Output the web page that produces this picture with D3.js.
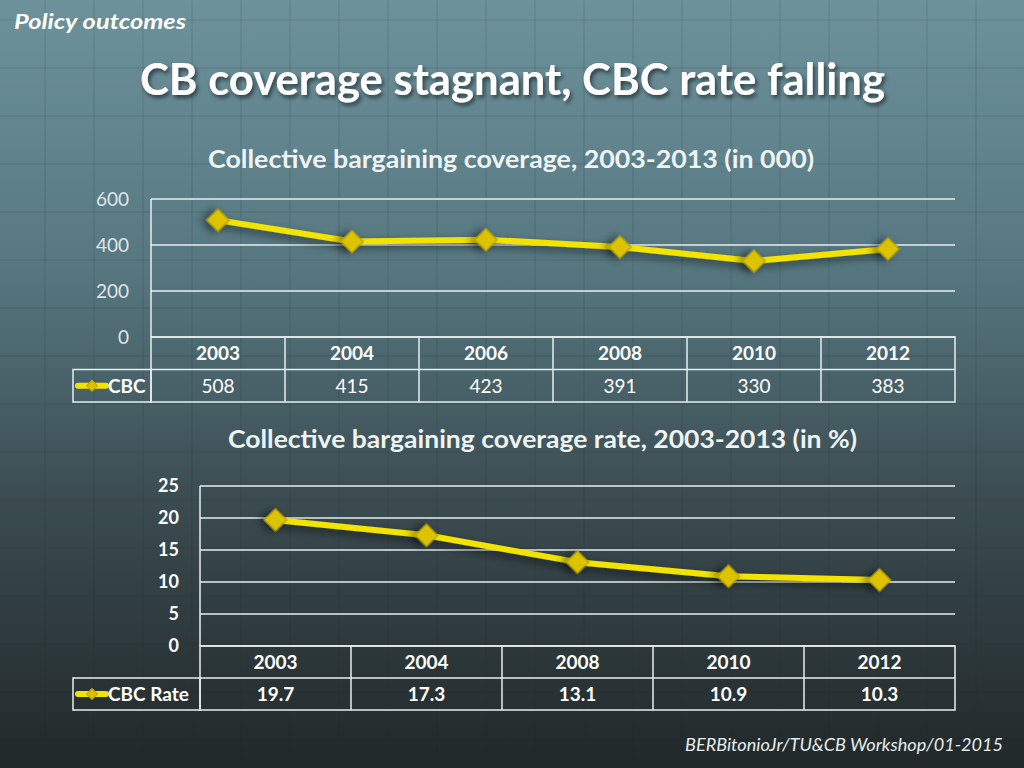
<!DOCTYPE html>
<html><head><meta charset="utf-8">
<script src="https://cdn.jsdelivr.net/npm/d3@7"></script>
<style>
html,body{margin:0;padding:0;background:#2a3335;}
svg{display:block;font-family:Lato,"Open Sans",sans-serif;}
</style></head>
<body>
<svg id="c" width="1024" height="768"></svg>
<script>
// ---- data ----
const years1 = ["2003","2004","2006","2008","2010","2012"];
const cbc = [508,415,423,391,330,383];
const ticks1 = [0,200,400,600];
const years2 = ["2003","2004","2008","2010","2012"];
const cbcRate = [19.7,17.3,13.1,10.9,10.3];
const ticks2 = [0,5,10,15,20,25];

const svg = d3.select("#c");
const W = 1024, H = 768;
const defs = svg.append("defs");

// background gradient
const bg = defs.append("linearGradient").attr("id","bg").attr("x1",0).attr("y1",0).attr("x2",0).attr("y2",1);
bg.append("stop").attr("offset","0%").attr("stop-color","#6d929c");
bg.append("stop").attr("offset","35%").attr("stop-color","#567780");
bg.append("stop").attr("offset","65%").attr("stop-color","#3b4c51");
bg.append("stop").attr("offset","100%").attr("stop-color","#212829");
svg.append("rect").attr("width",W).attr("height",H).attr("fill","url(#bg)");

// subtle grid texture
const tex = svg.append("g").attr("stroke","#1c2a2e").attr("stroke-opacity",0.09).attr("stroke-width",2);
d3.range(45, W, 49).forEach(x => tex.append("line").attr("x1",x).attr("x2",x).attr("y1",0).attr("y2",H));
d3.range(20, H, 48).forEach(y => tex.append("line").attr("x1",0).attr("x2",W).attr("y1",y).attr("y2",y));

// shadows
const sh = defs.append("filter").attr("id","tsh").attr("x","-10%").attr("y","-20%").attr("width","130%").attr("height","160%");
sh.append("feDropShadow").attr("dx",2).attr("dy",3).attr("stdDeviation",2).attr("flood-color","#000").attr("flood-opacity",0.55);
const msh = defs.append("filter").attr("id","msh").attr("x","-100%").attr("y","-100%").attr("width","300%").attr("height","300%");
msh.append("feDropShadow").attr("dx",-3).attr("dy",4).attr("stdDeviation",4).attr("flood-color","#000").attr("flood-opacity",0.5);

// headings
svg.append("text").attr("x",14).attr("y",29).attr("fill","#ffffff").attr("font-size",21)
  .attr("font-style","italic").attr("font-weight","bold")
  .attr("textLength",172).attr("lengthAdjust","spacingAndGlyphs").text("Policy outcomes");
svg.append("text").attr("x",512.5).attr("y",95).attr("text-anchor","middle").attr("fill","#ffffff")
  .attr("font-size",43).attr("font-weight","bold").attr("filter","url(#tsh)")
  .attr("textLength",745).attr("lengthAdjust","spacingAndGlyphs")
  .text("CB coverage stagnant, CBC rate falling");
svg.append("text").attr("x",1003).attr("y",751).attr("text-anchor","end").attr("fill","#e6ecee")
  .attr("font-size",18).attr("font-style","italic")
  .attr("textLength",318).attr("lengthAdjust","spacingAndGlyphs").text("BERBitonioJr/TU&CB Workshop/01-2015");

function chart(cfg){
  const g = svg.append("g");
  const x = d3.scaleBand().domain(cfg.cats).range([cfg.left, cfg.right]);
  const y = d3.scaleLinear().domain([0, d3.max(cfg.ticks)]).range([cfg.bottom, cfg.top]);
  // title
  g.append("text").attr("x",cfg.titleX).attr("y",cfg.titleY).attr("text-anchor","middle")
    .attr("fill","#eef3f4").attr("font-size",24).attr("font-weight","bold")
    .attr("textLength",cfg.titleLen).attr("lengthAdjust","spacingAndGlyphs").text(cfg.title);
  // gridlines
  g.selectAll("line.gr").data(cfg.ticks).join("line")
    .attr("x1",cfg.left).attr("x2",cfg.right).attr("y1",d=>y(d)).attr("y2",d=>y(d))
    .attr("stroke","#e8eeef").attr("stroke-width",1.5);
  g.append("line").attr("x1",cfg.left).attr("x2",cfg.left).attr("y1",cfg.top).attr("y2",cfg.bottom)
    .attr("stroke","#e8eeef").attr("stroke-width",1.5);
  // y axis labels
  const yAxis = d3.axisLeft(y).tickValues(cfg.ticks).tickSize(0).tickPadding(cfg.tickPad);
  const ya = g.append("g").attr("transform",`translate(${cfg.left},0)`).call(yAxis);
  ya.select(".domain").remove();
  ya.selectAll("text").attr("fill",cfg.tickColor).attr("font-size",cfg.tickSize)
    .attr("font-weight",cfg.tickWeight).attr("font-family","Lato,'Open Sans',sans-serif");
  // data table
  const rh = cfg.rowH;
  const tb = g.append("g").attr("stroke","#e8eeef").attr("stroke-width",1.5).attr("fill","none");
  tb.append("rect").attr("x",cfg.left).attr("y",cfg.bottom).attr("width",cfg.right-cfg.left).attr("height",2*rh);
  tb.append("rect").attr("x",cfg.legL).attr("y",cfg.bottom+rh).attr("width",cfg.left-cfg.legL).attr("height",rh);
  tb.append("line").attr("x1",cfg.left).attr("x2",cfg.right).attr("y1",cfg.bottom+rh).attr("y2",cfg.bottom+rh);
  tb.selectAll("line.v").data(cfg.cats.slice(1)).join("line")
    .attr("x1",d=>x(d)).attr("x2",d=>x(d)).attr("y1",cfg.bottom).attr("y2",cfg.bottom+2*rh);
  g.selectAll("text.yr").data(cfg.cats).join("text")
    .attr("x",d=>x(d)+x.bandwidth()/2).attr("y",cfg.bottom+rh/2+7).attr("text-anchor","middle")
    .attr("fill","#ffffff").attr("font-size",19).attr("font-weight","bold").text(d=>d);
  g.selectAll("text.vl").data(cfg.values).join("text")
    .attr("x",(d,i)=>x(cfg.cats[i])+x.bandwidth()/2).attr("y",cfg.bottom+rh*1.5+7).attr("text-anchor","middle")
    .attr("fill","#ffffff").attr("font-size",19).attr("font-weight",cfg.valWeight).text(d=>d);
  // legend
  const ly = cfg.bottom+rh*1.5;
  g.append("line").attr("x1",cfg.legL+5).attr("x2",cfg.legL+33).attr("y1",ly).attr("y2",ly)
    .attr("stroke","#f3e300").attr("stroke-width",6).attr("stroke-linecap","round");
  g.append("path").attr("d",d3.symbol(d3.symbolSquare, 60)())
    .attr("transform",`translate(${cfg.legL+19},${ly}) rotate(45)`).attr("fill","#d8bf00").attr("stroke","#bfa600");
  g.append("text").attr("x",cfg.legL+35).attr("y",ly+7).attr("fill","#ffffff").attr("font-size",19)
    .attr("font-weight","bold").text(cfg.legend);
  // line + markers
  const line = d3.line().x((d,i)=>x(cfg.cats[i])+x.bandwidth()/2).y(d=>y(d));
  g.append("path").datum(cfg.values).attr("d",line).attr("fill","none")
    .attr("stroke","#f3e300").attr("stroke-width",6).attr("stroke-linejoin","round").attr("filter","url(#msh)");
  g.selectAll("path.mk").data(cfg.values).join("path")
    .attr("d",d3.symbol(d3.symbolSquare, 250)())
    .attr("transform",(d,i)=>`translate(${x(cfg.cats[i])+x.bandwidth()/2},${y(d)}) rotate(45)`)
    .attr("fill","#dcc300").attr("stroke","#b89f00").attr("stroke-width",1.2).attr("filter","url(#msh)");
}

chart({cats:years1, values:cbc, ticks:ticks1, left:151, right:955, top:199, bottom:337,
  rowH:32.5, legL:73, legend:"CBC", title:"Collective bargaining coverage, 2003-2013 (in 000)",
  titleX:511, titleY:168, titleLen:606, tickColor:"#dfe6e8", tickSize:19, tickWeight:"normal", tickPad:22, valWeight:"normal"});
chart({cats:years2, values:cbcRate, ticks:ticks2, left:200, right:955, top:486, bottom:646,
  rowH:32, legL:73, legend:"CBC Rate", title:"Collective bargaining coverage rate, 2003-2013 (in %)",
  titleX:542.5, titleY:448, titleLen:629, tickColor:"#ffffff", tickSize:18, tickWeight:"bold", tickPad:21, valWeight:"bold"});
</script>
</body></html>
